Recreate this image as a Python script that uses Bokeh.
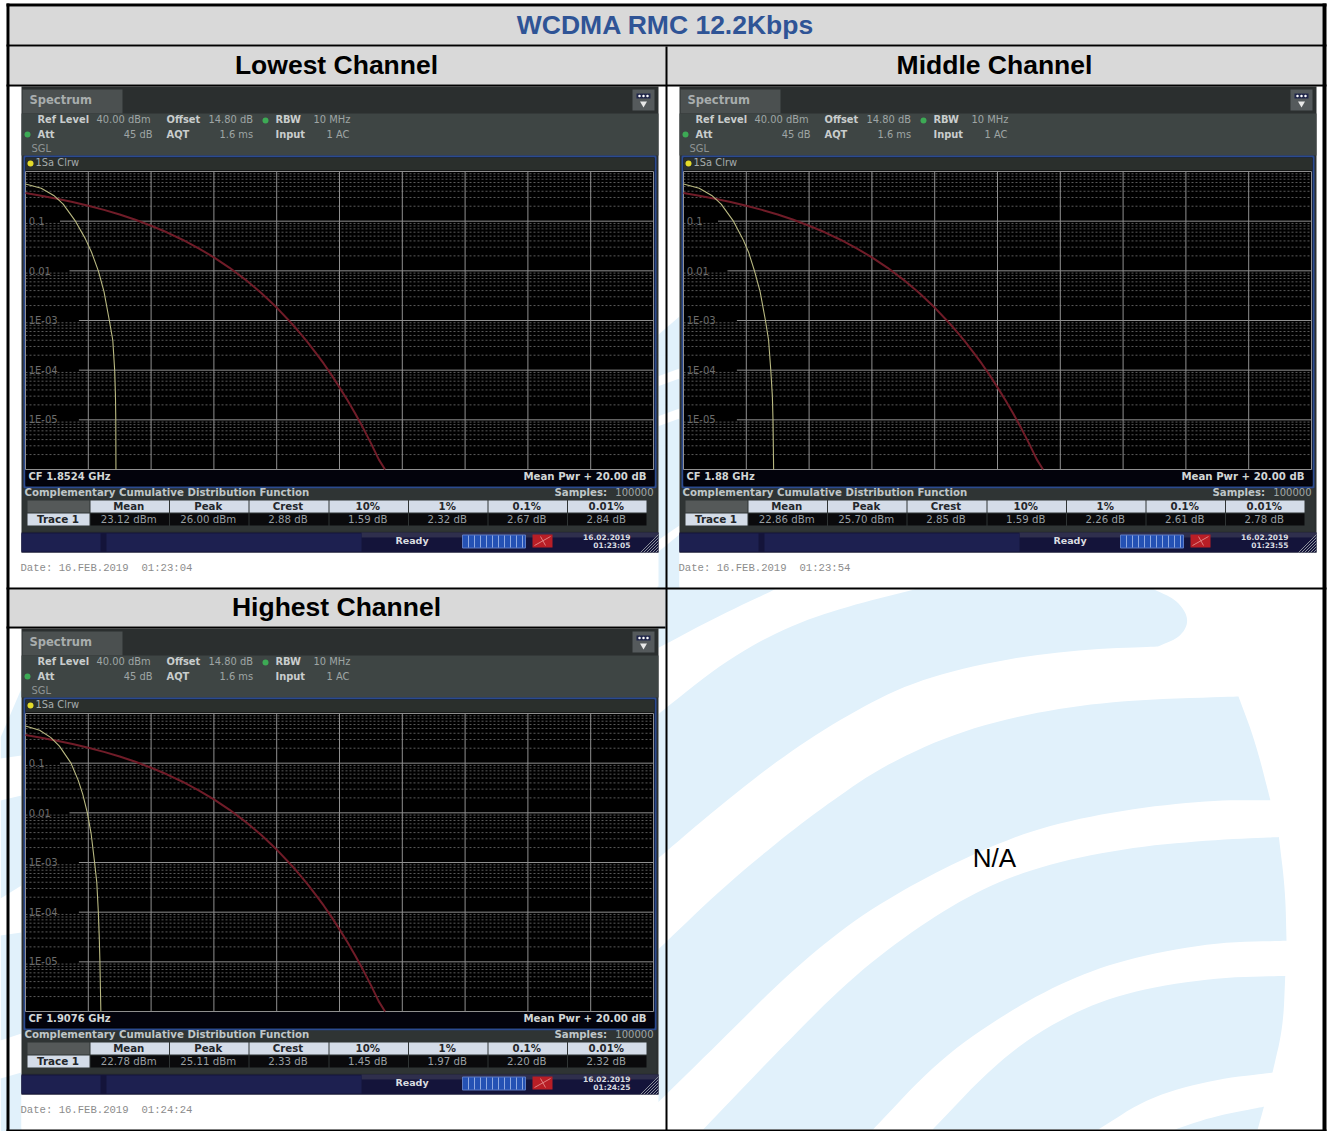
import numpy as np
from bokeh.plotting import figure
from bokeh.models import Range1d, LogScale
from bokeh.core.properties import value
from bokeh.embed import file_html
from bokeh.resources import INLINE

# ---- data ----
TITLE = "WCDMA RMC 12.2Kbps"
CHANNELS = ["Lowest Channel", "Middle Channel", "Highest Channel"]
CENTER_FREQ = ["CF 1.8524 GHz", "CF 1.88 GHz", "CF 1.9076 GHz"]
DATES = ["Date: 16.FEB.2019", "Date: 16.FEB.2019", "Date: 16.FEB.2019"]
TIMES = ["01:23:04", "01:23:54", "01:24:24"]
STAMPS = [("16.02.2019", "01:23:05"), ("16.02.2019", "01:23:55"), ("16.02.2019", "01:24:25")]
COLUMNS = ["Mean", "Peak", "Crest", "10%", "1%", "0.1%", "0.01%"]
ROW_LOW = ["23.12 dBm", "26.00 dBm", "2.88 dB", "1.59 dB", "2.32 dB", "2.67 dB", "2.84 dB"]
ROW_MID = ["22.86 dBm", "25.70 dBm", "2.85 dB", "1.59 dB", "2.26 dB", "2.61 dB", "2.78 dB"]
ROW_HIGH = ["22.78 dBm", "25.11 dBm", "2.33 dB", "1.45 dB", "1.97 dB", "2.20 dB", "2.32 dB"]
Y_TICKS = [0.1, 0.01, 1e-3, 1e-4, 1e-5]
Y_LABELS = ["0.1", "0.01", "1E-03", "1E-04", "1E-05"]
X_DIVS = [0, 2, 4, 6, 8, 10, 12, 14, 16, 18, 20]

REF_DB = [0, .5, 1, 1.5, 2, 2.5, 3, 3.5, 4, 4.5, 5, 5.5, 6, 6.5, 7, 7.5, 8, 8.5, 8.75, 9, 9.25, 9.5, 9.75, 10,
          10.25, 10.5, 10.75, 11, 11.25, 11.45]
REF_P = [.368, .326, .284, .243, .205, .169, .136, .1065, .081, .0597, .0423, .0288, .0187, .0115, .00666, .00362,
         .00182, .00084, .00055, .000355, .00022, .000135, 7.96e-5, 4.5e-5, 2.5e-5, 1.34e-5, 6.9e-6, 3.4e-6,
         1.6e-6, 1e-6]
PROB = [.56, .46, .33, .22, .1, .045, .024, .01, .0038, .001, .0004, .0001, 3e-5, 1e-5, 1e-6]
LOW_DB = [0, .5, .9, 1.2, 1.59, 1.9, 2.1, 2.32, 2.5, 2.67, 2.78, 2.84, 2.865, 2.875, 2.88]
MID_DB = [0, .5, .9, 1.2, 1.59, 1.88, 2.07, 2.26, 2.44, 2.61, 2.71, 2.78, 2.83, 2.85, 2.87]
HIGH_DB = [0, .45, .8, 1.08, 1.45, 1.68, 1.82, 1.97, 2.09, 2.20, 2.27, 2.32, 2.35, 2.37, 2.40]

BANDS_Z = [
    [[(-10, 25), (270, 25)], [(270, 25), (130, 105), (-10, 195)]],
    [[(-10, 385), (150, 230), (300, 130), (450, 70), (600, 25)], [(600, 25), (1160, 25)],
     [(1160, 25), (1215, 55), (1245, 110), (1225, 160), (1170, 188)],
     [(1170, 188), (1000, 195), (800, 225), (600, 285), (450, 375), (300, 490), (150, 630), (-10, 795)]],
    [[(-10, 1055), (150, 870), (300, 720), (400, 630), (520, 530), (700, 430), (900, 370), (1100, 340), (1360, 330)],
     [(1360, 330), (1400, 460), (1435, 625)],
     [(1435, 625), (1300, 625), (1100, 650), (900, 700), (750, 770), (600, 860), (450, 970), (300, 1120), (150, 1300), (-10, 1490)]],
    [[(100, 1562), (300, 1310), (450, 1130), (600, 990), (750, 880), (900, 810), (1100, 760), (1300, 738), (1455, 730)],
     [(1455, 730), (1470, 880), (1473, 1025)],
     [(1473, 1025), (1300, 1030), (1100, 1075), (950, 1140), (800, 1240), (650, 1370), (500, 1562)]],
    [[(640, 1562), (800, 1360), (950, 1240), (1100, 1170), (1300, 1130), (1470, 1125)],
     [(1470, 1125), (1465, 1270), (1440, 1400)],
     [(1440, 1400), (1300, 1420), (1150, 1470), (1030, 1562)]],
    [[(1210, 1562), (1300, 1525), (1420, 1497)], [(1420, 1497), (1405, 1562)]],
]
GUTTERS = [
    [(0, 737), (21, 688), (21, 755), (0, 758)],
    [(0, 800), (21, 795), (21, 885), (0, 898)],
    [(0, 935), (21, 932), (21, 1033), (0, 1040)],
    [(0, 1078), (21, 1072), (21, 1131), (0, 1131)],
    [(657, 335), (679, 316), (679, 368), (657, 376)],
    [(657, 386), (679, 378), (679, 408), (657, 416)],
    [(657, 426), (679, 418), (679, 525), (657, 540)],
    [(657, 552), (679, 534), (679, 588), (657, 588)],
]

W, H = 1327, 1131
PAGE_FONT = "Liberation Sans"
UI_FONT = "DejaVu Sans"
MONO = "Liberation Mono"

p = figure(width=W, height=H, x_range=Range1d(0, W), y_range=Range1d(H, 0),
           output_backend="svg", toolbar_location=None, min_border=0,
           margin=(0, 0, 0, 0), background_fill_color="white", border_fill_color="white")
p.xaxis.visible = False
p.yaxis.visible = False
p.grid.visible = False
p.outline_line_color = None


def box(x0, x1, y0, y1, color, line=None, lw=1, alpha=1.0):
    p.quad(left=[x0], right=[x1], top=[y0], bottom=[y1], fill_color=color, fill_alpha=alpha,
           line_color=line, line_width=lw)


def label(x, y, s, size, color, bold=False, align="left", font=UI_FONT):
    nudge = {"left": -1, "center": -.5, "right": 0}[align]
    p.text(x=[x + nudge], y=[y - 1], text=[s], text_font=value(font), text_font_size=f"{size}px", text_color=color,
           text_font_style="bold" if bold else "normal", text_align=align, text_baseline="middle")


def smooth(chain, n=3):
    pts = np.array(chain, dtype=float)
    for _ in range(n):
        q = pts[:-1] * .75 + pts[1:] * .25
        r = pts[:-1] * .25 + pts[1:] * .75
        mid = np.empty((q.shape[0] * 2, 2))
        mid[0::2], mid[1::2] = q, r
        pts = np.vstack([pts[0], mid, pts[-1]])
    return pts


# watermark
for band in BANDS_Z:
    pts = np.vstack([smooth(c) for c in band])
    p.patch(660 + pts[:, 0] / 2.353, 580 + pts[:, 1] / 2.845, fill_color="#E1F1FB", line_color=None)
for g in GUTTERS:
    p.patch([a for a, _ in g], [b for _, b in g], fill_color="#E1F1FB", line_color=None)

# page table
GREY = "#D9D9D9"
box(9, 1322, 6, 44, GREY)
box(9, 1322, 46, 84, GREY)
box(9, 665, 589, 626, GREY)
label(665.5, 25, TITLE, 26.5, "#2F5496", True, "center", PAGE_FONT)
label(336.5, 65, CHANNELS[0], 26.5, "#000000", True, "center", PAGE_FONT)
label(994.5, 65, CHANNELS[1], 26.5, "#000000", True, "center", PAGE_FONT)
label(336.5, 607, CHANNELS[2], 26.5, "#000000", True, "center", PAGE_FONT)
label(994.5, 858, "N/A", 26, "#000000", False, "center", PAGE_FONT)


def panel(name, dx, dy, cf, date, time, stamp, row, curve_db):
    X = lambda v: v + dx
    Y = lambda v: v + dy
    box(X(21), X(658), Y(86), Y(586), "#FFFFFF")
    box(X(21), X(658), Y(86), Y(552), "#2B2F2F")
    box(X(22), X(122), Y(89), Y(113), "#4B5050")
    box(X(21), X(658), Y(113), Y(155), "#3E4544")
    box(X(632), X(654), Y(89), Y(110), "#555A5C")
    box(X(636), X(650), Y(93), Y(98), "#20264A")
    p.scatter(x=[X(639), X(643), X(647)], y=[Y(95.5)] * 3, size=2.5, color="#FFFFFF", line_color=None)
    p.scatter(x=[X(643)], y=[Y(103)], size=7, marker="inverted_triangle", color="#E8E8E8", line_color=None)
    label(X(30), Y(100.5), "Spectrum", 11.5, "#A8ADAD", True)

    c_b, c_t = "#C9CDCD", "#9FA5A5"
    label(X(38), Y(119.5), "Ref Level", 9.9, c_b, True)
    label(X(97), Y(119.5), "40.00 dBm", 9.9, c_t)
    label(X(167), Y(119.5), "Offset", 9.9, c_b, True)
    label(X(209), Y(119.5), "14.80 dB", 9.9, c_t)
    label(X(276), Y(119.5), "RBW", 9.9, c_b, True)
    label(X(314), Y(119.5), "10 MHz", 9.9, c_t)
    label(X(38), Y(134.5), "Att", 9.9, c_b, True)
    label(X(152), Y(134.5), "45 dB", 9.9, c_t, False, "right")
    label(X(167), Y(134.5), "AQT", 9.9, c_b, True)
    label(X(220), Y(134.5), "1.6 ms", 9.9, c_t)
    label(X(276), Y(134.5), "Input", 9.9, c_b, True)
    label(X(327), Y(134.5), "1 AC", 9.9, c_t)
    label(X(32), Y(148.5), "SGL", 9.9, "#8E9494")
    p.scatter(x=[X(265), X(27)], y=[Y(120), Y(134)], size=6, color="#3DAA55", line_color=None)

    # trace window
    box(X(24), X(655), Y(156), Y(487), "#000000", "#2B4A90", 2)
    box(X(25), X(654), Y(157), Y(170), "#2A2F2C")
    p.scatter(x=[X(30)], y=[Y(163)], size=6, color="#E3DB2A", line_color=None)
    label(X(36), Y(162.5), "1Sa Clrw", 9.9, "#A6ACAC")

    # scales of this trace window: 0..20 dB over the plot width, 1..1E-06 over its height
    x_px, y_px = 31.4, 298 / 6
    x0, y0 = X(25), Y(171)
    p.extra_x_ranges[name] = Range1d(-x0 / x_px, (W - x0) / x_px)
    p.extra_y_ranges[name] = Range1d(10.0 ** (-(H - y0) / y_px), 10.0 ** (y0 / y_px))
    p.extra_y_scales[name] = LogScale()
    kw = dict(x_range_name=name, y_range_name=name)

    ys = []
    for d in range(6):
        for m in range(2, 10):
            ys.append(m * 10.0 ** (-d - 1))
    p.segment(x0=[0] * len(ys), x1=[20] * len(ys), y0=ys, y1=ys, line_color="#5A5A5A", line_dash="2 2",
              line_width=1, **kw)
    p.segment(x0=X_DIVS, x1=X_DIVS, y0=[1] * len(X_DIVS), y1=[1e-6] * len(X_DIVS), line_color="#8F8F8F",
              line_width=1, **kw)
    label_end = [1.1, 1.4, 1.7, 1.7, 1.7]
    p.segment(x0=label_end, x1=[20] * 5, y0=Y_TICKS, y1=Y_TICKS, line_color="#8F8F8F", line_width=1, **kw)
    p.segment(x0=[0, 0], x1=[20, 20], y0=[1, 1e-6], y1=[1, 1e-6], line_color="#8F8F8F", line_width=1, **kw)
    p.text(x=[0.1] * 5, y=Y_TICKS, text=Y_LABELS, text_font=value(UI_FONT), text_font_size="10px",
           text_color="#6C6C6C", text_baseline="middle", **kw)
    p.line(REF_DB, REF_P, line_color="#701C28", line_width=2, **kw)
    p.line(curve_db, PROB, line_color="#B8B880", line_width=1.1, **kw)

    # footer of the trace window
    box(X(25), X(654), Y(469.5), Y(485), "#03030C")
    label(X(29), Y(476.5), cf, 10, "#D2D6D6", True)
    label(X(646), Y(476.5), "Mean Pwr + 20.00 dB", 10.2, "#D2D6D6", True, "right")

    # statistics
    box(X(22), X(656), Y(488), Y(531), "#2F3434")
    label(X(25), Y(492.5), "Complementary Cumulative Distribution Function", 10.2, "#BFC6C8", True)
    label(X(555), Y(492.5), "Samples:", 10.2, "#BFC6C8", True)
    label(X(653), Y(492.5), "100000", 10, "#A0A6A6", False, "right")
    box(X(27), X(89), Y(500), Y(512), "#555959")
    box(X(27), X(89), Y(513), Y(525), "#D4DCE8")
    label(X(58), Y(519.5), "Trace 1", 10.4, "#23262A", True, "center")
    edges = [89, 168.5, 248, 328, 407.5, 487, 566.5, 646]
    for i, (c, v) in enumerate(zip(COLUMNS, row)):
        box(X(edges[i] + 1), X(edges[i + 1]), Y(500), Y(512), "#D4DCE8")
        box(X(edges[i] + 1), X(edges[i + 1]), Y(513), Y(525), "#0A0A0C")
        mid = X((edges[i] + edges[i + 1]) / 2)
        label(mid, Y(506.5), c, 10.2, "#24272B", True, "center")
        label(mid, Y(519.5), v, 10.2, "#999FA2", False, "center")

    # status bar
    box(X(21), X(658), Y(532), Y(552), "#14143A")
    box(X(361), X(658), Y(532), Y(537), "#3A3A55", alpha=.7)
    box(X(21), X(100), Y(533), Y(551), "#1D2050")
    box(X(106), X(361), Y(533), Y(551), "#1D2050")
    label(X(412), Y(541), "Ready", 9.5, "#DADDE0", True, "center")
    box(X(462), X(525), Y(534.5), Y(547.5), "#2451B4", "#5C7BC4", 1)
    p.segment(x0=[X(v) for v in range(468, 525, 6)], x1=[X(v) for v in range(468, 525, 6)],
              y0=[Y(535)] * 10, y1=[Y(547)] * 10, line_color="#8FA8E0", line_width=1)
    box(X(532), X(552), Y(534), Y(547), "#B81E26")
    p.segment(x0=[X(534), X(545)], x1=[X(550), X(540)], y0=[Y(545), Y(545)], y1=[Y(536), Y(536)],
              line_color="#E08080", line_width=1)
    label(X(630), Y(537.5), stamp[0], 7.5, "#D9DCE0", True, "right")
    label(X(630), Y(546), stamp[1], 7.5, "#D9DCE0", True, "right")
    n = [640, 643, 646, 649, 652, 655]
    p.segment(x0=[X(v) for v in n], x1=[X(658)] * 6, y0=[Y(552)] * 6,
              y1=[Y(552 - (658 - v)) for v in n], line_color="#8A8F9A", line_width=1)
    label(X(21), Y(568.5), date, 10.6, "#8C8C8C", False, "left", MONO)
    label(X(142), Y(568.5), time, 10.6, "#8C8C8C", False, "left", MONO)


panel("low", 0, 0, CENTER_FREQ[0], DATES[0], TIMES[0], STAMPS[0], ROW_LOW, LOW_DB)
panel("mid", 658, 0, CENTER_FREQ[1], DATES[1], TIMES[1], STAMPS[1], ROW_MID, MID_DB)
panel("high", 0, 542, CENTER_FREQ[2], DATES[2], TIMES[2], STAMPS[2], ROW_HIGH, HIGH_DB)

# table rules
for (a, b, c, d) in [(6, 1326, 3, 6), (6, 1326, 44, 46), (6, 1326, 84, 86), (6, 1326, 587, 589),
                     (6, 665, 626, 628), (6, 1326, 1129, 1131), (6, 9, 3, 1131),
                     (1322, 1326, 3, 1131), (665, 667, 46, 1131)]:
    box(a, b, c, d, "#000000")

open("out.html", "w").write(file_html(p, INLINE))
